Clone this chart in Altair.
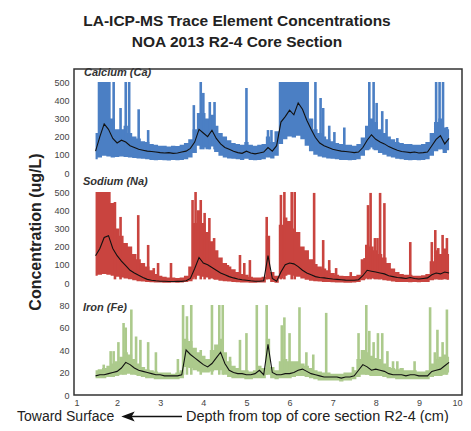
import altair as alt
import pandas as pd

# ---------------- data ----------------
N = 83
DEPTH = [round(1.5 + 0.1 * i, 1) for i in range(N)]  # sampling grid, cm

CA_MEAN = [120, 200, 270, 240, 190, 165, 180, 170, 150, 140,
           130, 125, 120, 118, 115, 112, 110, 112, 108, 110,
           115, 120, 135, 170, 240, 220, 200, 235, 190, 160,
           140, 130, 120, 112, 108, 120, 110, 105, 110, 115,
           140, 120, 150, 280, 310, 345, 320, 385, 350, 290,
           240, 195, 165, 150, 140, 130, 125, 120, 118, 115,
           112, 115, 140, 180, 210, 185, 170, 160, 145, 135,
           125, 118, 115, 112, 115, 110, 112, 115, 150, 185,
           205, 160, 190]
CA_LO = [75, 85, 95, 90, 85, 88, 90, 88, 85, 82,
         80, 78, 75, 72, 70, 72, 70, 68, 72, 70,
         72, 75, 85, 110, 150, 140, 130, 145, 115, 95,
         85, 80, 78, 75, 72, 78, 72, 70, 72, 75,
         85, 80, 95, 160, 185, 200, 195, 205, 185, 150,
         120, 100, 90, 85, 80, 78, 75, 72, 72, 70,
         72, 75, 95, 125, 140, 125, 110, 100, 90, 85,
         78, 75, 72, 70, 72, 70, 72, 75, 95, 120,
         130, 110, 125]
CA_HI = [220, 500, 500, 500, 300, 240, 240, 260, 220, 200,
         190, 175, 170, 160, 155, 150, 150, 145, 150, 148,
         155, 165, 185, 240, 330, 330, 300, 320, 260, 220,
         200, 180, 165, 160, 155, 170, 155, 150, 155, 160,
         200, 170, 230, 500, 500, 500, 500, 500, 500, 500,
         300, 240, 220, 200, 185, 175, 165, 160, 155, 155,
         150, 160, 195, 260, 300, 280, 240, 220, 200, 185,
         170, 165, 160, 160, 155, 155, 160, 170, 220, 280,
         300, 250, 240]
CA_SPIKE_X = [1.92, 2.08, 2.2, 2.28, 2.5, 2.72, 3.78, 3.94, 4.0, 4.15,
              4.26, 5.0, 5.5, 5.58, 6.6, 6.72, 6.78, 6.92, 7.04, 7.27,
              7.85, 7.95, 8.02, 8.15, 8.25, 8.5, 9.4, 9.48, 9.56, 9.65]
CA_SPIKE_TOP = [500, 357, 500, 500, 350, 236, 373, 500, 440, 390,
                390, 467, 236, 236, 500, 412, 357, 260, 225, 250,
                500, 500, 385, 340, 296, 192, 500, 500, 500, 253]

NA_MEAN = [150, 190, 250, 260, 190, 150, 120, 95, 70, 55,
           42, 30, 20, 15, 12, 10, 10, 8, 8, 10,
           9, 12, 25, 80, 140, 110, 100, 85, 70, 55,
           45, 35, 28, 22, 18, 15, 12, 10, 10, 12,
           150, 25, 10, 60, 100, 110, 105, 90, 70, 55,
           45, 35, 30, 28, 25, 22, 20, 18, 16, 15,
           15, 18, 40, 70, 65, 60, 55, 50, 40, 35,
           30, 28, 25, 30, 25, 22, 25, 28, 45, 55,
           50, 60, 55]
NA_LO = [40, 45, 50, 45, 40, 35, 30, 25, 20, 15,
         10, 8, 5, 4, 3, 3, 2, 2, 3, 2,
         3, 5, 10, 30, 40, 35, 30, 25, 18, 12,
         10, 8, 5, 4, 3, 3, 2, 2, 3, 3,
         20, 5, 2, 25, 40, 45, 40, 35, 25, 18,
         12, 10, 8, 6, 5, 4, 3, 3, 2, 2,
         3, 5, 15, 25, 25, 22, 20, 15, 12, 8,
         6, 5, 5, 4, 5, 4, 5, 6, 15, 20,
         18, 20, 18]
NA_HI = [500, 500, 500, 500, 440, 300, 260, 220, 200, 160,
         130, 110, 90, 70, 50, 40, 35, 30, 30, 28,
         30, 40, 90, 330, 400, 330, 280, 230, 180, 140,
         110, 90, 75, 60, 50, 45, 35, 30, 30, 35,
         260, 60, 40, 320, 360, 340, 300, 280, 200, 180,
         130, 105, 90, 80, 70, 55, 45, 40, 38, 38,
         38, 45, 130, 210, 200, 180, 160, 140, 110, 80,
         60, 50, 45, 45, 40, 40, 42, 50, 120, 180,
         160, 190, 160]
NA_SPIKE_X = [1.95, 2.08, 2.49, 2.72, 2.85, 2.95, 3.25,
              3.75, 3.82, 3.94, 4.03, 4.14, 4.25,
              4.57, 4.85, 4.95, 5.08, 5.47,
              5.8, 5.88, 6.05, 6.12,
              6.57, 6.78, 6.92, 7.08, 7.42,
              7.74, 7.82, 7.88, 7.98, 8.04, 8.1, 8.2,
              8.8,
              9.3, 9.38, 9.45, 9.55, 9.65]
NA_SPIKE_TOP = [445, 363, 373, 209, 82, 110, 110,
                456, 500, 456, 385, 357, 247,
                99, 154, 110, 126, 363,
                484, 500, 500, 500,
                495, 236, 126, 82, 60,
                137, 428, 495, 247, 247, 495, 439,
                225,
                225, 291, 192, 264, 247]

FE_MEAN = [17, 18, 18, 19, 20, 21, 24, 29, 27, 24,
           22, 21, 20, 19, 18, 18, 17, 17, 17, 17,
           18, 40, 36, 33, 30, 27, 25, 28, 33, 38,
           28, 22, 20, 19, 19, 18, 18, 19, 22, 18,
           45, 20, 18, 18, 19, 19, 20, 22, 23, 21,
           19, 18, 17, 16, 16, 16, 16, 15, 16, 16,
           17, 22, 27, 25, 22, 23, 22, 21, 19, 18,
           18, 18, 17, 18, 18, 17, 17, 17, 21, 22,
           23, 26, 29]
FE_LO = [15, 15, 15, 16, 16, 17, 18, 19, 19, 18,
         17, 16, 15, 15, 14, 14, 14, 14, 14, 14,
         15, 25, 24, 22, 21, 20, 20, 21, 22, 22,
         18, 16, 15, 15, 15, 14, 14, 15, 15, 15,
         18, 15, 14, 15, 15, 15, 16, 17, 17, 16,
         15, 14, 13, 13, 13, 13, 13, 12, 13, 13,
         14, 16, 18, 18, 17, 17, 17, 16, 15, 15,
         14, 14, 14, 14, 14, 14, 14, 14, 16, 17,
         17, 18, 20]
FE_HI = [22, 23, 24, 26, 28, 30, 34, 38, 36, 32,
         28, 25, 23, 22, 21, 20, 20, 20, 19, 20,
         22, 50, 48, 42, 38, 35, 32, 40, 45, 50,
         38, 30, 26, 24, 22, 22, 21, 22, 26, 24,
         50, 25, 22, 30, 32, 30, 30, 30, 28, 26,
         24, 22, 21, 20, 20, 19, 19, 19, 20, 20,
         22, 32, 40, 38, 35, 33, 32, 28, 25, 24,
         23, 24, 22, 22, 22, 21, 21, 22, 28, 32,
         34, 36, 34]
FE_SPIKE_X = [1.69, 1.85, 1.92, 2.03, 2.15, 2.2, 2.33, 2.44, 2.54, 2.72,
              2.9, 3.41, 3.53, 3.62, 3.72, 3.94, 4.2, 4.37, 4.45, 4.62,
              4.85, 5.0, 5.24, 5.47, 5.82, 5.88, 6.0, 6.23, 6.39, 6.55,
              6.85, 7.47, 7.6, 7.78, 7.85, 7.95, 8.05, 8.15, 8.27, 8.4,
              8.5, 8.9, 9.26, 9.37, 9.43, 9.55, 9.65]
FE_SPIKE_TOP = [27, 39, 39, 47, 64, 60, 76, 52, 49, 47,
                38, 32, 80, 70, 80, 40, 80, 80, 80, 34,
                49, 55, 80, 80, 62, 69, 55, 78, 38, 36,
                73, 25, 55, 80, 57, 47, 55, 55, 39, 30,
                30, 30, 78, 38, 58, 47, 76]

ELEMENTS = ["Ca", "Na", "Fe"]
PANEL_LABELS = ["Calcium (Ca)", "Sodium (Na)", "Iron (Fe)"]
CA_NA_TICKS = [0, 100, 200, 300, 400, 500]
FE_TICKS = [0, 20, 40, 60, 80]
X_TICKS = [1, 2, 3, 4, 5, 6, 7, 8, 9, 10]

for arr in [CA_MEAN, CA_LO, CA_HI, NA_MEAN, NA_LO, NA_HI, FE_MEAN, FE_LO, FE_HI]:
    assert len(arr) == N, len(arr)
assert len(CA_SPIKE_X) == len(CA_SPIKE_TOP)
assert len(NA_SPIKE_X) == len(NA_SPIKE_TOP)
assert len(FE_SPIKE_X) == len(FE_SPIKE_TOP)

# ---------------- styling / layout ----------------
COLORS = ["#4b7fc4", "#c9443f", "#acca8c"]
FONT = "Liberation Sans"
W, H = 388, 326
# stacked panels on one shared vertical scale (units = px above frame bottom)
OFFSET = {"Ca": 222, "Na": 112, "Fe": 0}
SCALE = {"Ca": 0.182, "Na": 0.182, "Fe": 1.125}
SPIKE_BASE = {"Ca": 130, "Na": 20, "Fe": 18}


def stacked(field):
    return (f"datum.el == 'Ca' ? {OFFSET['Ca']} + datum.{field} * {SCALE['Ca']} : "
            f"datum.el == 'Na' ? {OFFSET['Na']} + datum.{field} * {SCALE['Na']} : "
            f"{OFFSET['Fe']} + datum.{field} * {SCALE['Fe']}")


rows = []
for el, lo, hi, mean in [("Ca", CA_LO, CA_HI, CA_MEAN),
                         ("Na", NA_LO, NA_HI, NA_MEAN),
                         ("Fe", FE_LO, FE_HI, FE_MEAN)]:
    for d, l, h, m in zip(DEPTH, lo, hi, mean):
        rows.append({"el": el, "depth": d, "lo": l, "hi": h, "mean": m})
series = pd.DataFrame(rows)

srows = []
for el, xs_, tops in [("Ca", CA_SPIKE_X, CA_SPIKE_TOP),
                      ("Na", NA_SPIKE_X, NA_SPIKE_TOP),
                      ("Fe", FE_SPIKE_X, FE_SPIKE_TOP)]:
    for x, t in zip(xs_, tops):
        srows.append({"el": el, "depth": x, "top": t, "base": SPIKE_BASE[el]})
spikes = pd.DataFrame(srows)

tick_vals = ([OFFSET["Fe"] + v * SCALE["Fe"] for v in FE_TICKS]
             + [OFFSET["Na"] + v * SCALE["Na"] for v in CA_NA_TICKS]
             + [OFFSET["Ca"] + v * SCALE["Ca"] for v in CA_NA_TICKS])
label_expr = (f"datum.value < 100 ? format(datum.value / {SCALE['Fe']}, '.0f') : "
              f"datum.value < 210 ? format((datum.value - {OFFSET['Na']}) / {SCALE['Na']}, '.0f') : "
              f"format((datum.value - {OFFSET['Ca']}) / {SCALE['Ca']}, '.0f')")

xs = alt.Scale(domain=[1, 10], nice=False, zero=False)
ys = alt.Scale(domain=[0, H], nice=False, zero=False)
color = alt.Color("el:N", scale=alt.Scale(domain=ELEMENTS, range=COLORS), legend=None)

x_axis = alt.Axis(values=X_TICKS, format="d", title=None, domain=False, ticks=False,
                  grid=False, labelFontSize=9, labelColor="#444", labelPadding=3,
                  labelFont=FONT, labelFlush=True)
y_axis = alt.Axis(values=tick_vals, labelExpr=label_expr, title=None, domain=False,
                  ticks=False, grid=False, labelFontSize=9, labelColor="#444",
                  labelPadding=5, labelFont=FONT)


def X():
    return alt.X("depth:Q", scale=xs, axis=x_axis)


def Y(field):
    return alt.Y(field, scale=ys, axis=y_axis)


band = alt.Chart(series).transform_calculate(
    lo_c=stacked("lo"), hi_c=stacked("hi")
).mark_area(interpolate="step", opacity=1).encode(
    x=X(), y=Y("lo_c:Q"), y2="hi_c:Q", color=color,
)

spike = alt.Chart(spikes).transform_calculate(
    b_c=stacked("base"), t_c=stacked("top")
).mark_rule(strokeWidth=2.6).encode(
    x=X(), y=Y("b_c:Q"), y2="t_c:Q", color=color,
)

mean_line = alt.Chart(series).transform_calculate(
    m_c=stacked("mean")
).mark_line(color="#111", strokeWidth=1.1).encode(
    x=X(), y=Y("m_c:Q"), detail="el:N",
)

one = pd.DataFrame({"k": [0]})


def text(t, x, y, size, weight="normal", style="normal", align="center", angle=0,
         color="#222"):
    kw = dict(text=t, fontSize=size, fontWeight=weight, fontStyle=style, align=align,
              baseline="middle", font=FONT, color=color)
    if angle:
        kw["angle"] = angle
    return alt.Chart(one).mark_text(**kw).encode(x=alt.value(x), y=alt.value(y))


BOTTOM_Y = 347.5
layers = [band, spike, mean_line,
          text("LA-ICP-MS Trace Element Concentrations", 163, -48, 15.5, "bold"),
          text("NOA 2013 R2-4 Core Section", 163, -27, 15.5, "bold"),
          text("Concentration (ug/L)", -38, 163, 16, "bold", angle=270),
          text(PANEL_LABELS[0], 10, 4, 11, "bold", "italic", "left", color="#333"),
          text(PANEL_LABELS[1], 9, 113, 11, "bold", "italic", "left", color="#333"),
          text(PANEL_LABELS[2], 9, 239, 11, "bold", "italic", "left", color="#333"),
          text("Toward Surface", -57, BOTTOM_Y, 14, align="left"),
          text("Depth from top of core section R2-4 (cm)", 112, BOTTOM_Y, 14.5, align="left")]

arrow_line = alt.Chart(one).mark_rule(color="#111", strokeWidth=1.5).encode(
    x=alt.value(55), x2=alt.value(108), y=alt.value(BOTTOM_Y))
arrow_head = alt.Chart(one).mark_point(
    shape="M -1 0 L 1 -0.75 L 0.55 0 L 1 0.75 Z", filled=True, color="#111",
    opacity=1, size=180).encode(x=alt.value(54), y=alt.value(BOTTOM_Y))

chart = alt.layer(*layers, arrow_line, arrow_head).properties(
    width=W, height=H,
    autosize=alt.AutoSizeParams(type="none"),
    padding={"left": 66, "top": 61, "right": 1, "bottom": 28},
).configure_view(stroke="#333", strokeWidth=1.5)

chart.save("out.html", embed_options={"renderer": "svg", "actions": False})
